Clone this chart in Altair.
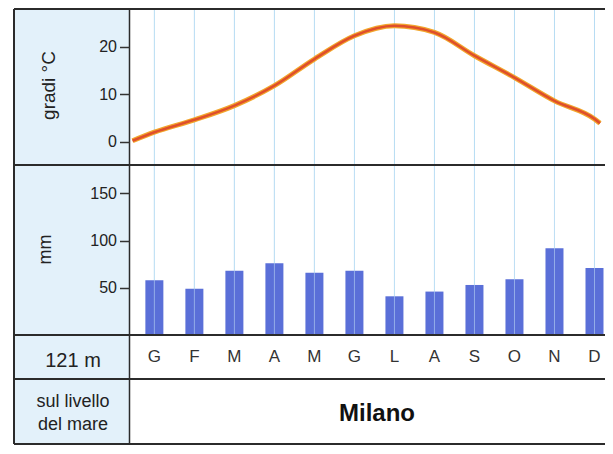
import altair as alt
import pandas as pd

# ---- data ----
months = ["G", "F", "M", "A", "M", "G", "L", "A", "S", "O", "N", "D"]
temperature = [2.0, 4.6, 7.6, 11.8, 17.4, 22.3, 24.4, 23.0, 18.1, 13.5, 8.6, 4.8]   # °C
precipitation = [58, 49, 68, 76, 66, 68, 41, 46, 53, 59, 92, 71]                   # mm
temp_left_edge = 0.2     # curve value where it meets the left divider
temp_right_edge = 3.9    # curve value at the cropped right edge
temp_ticks = [0, 10, 20]
prec_ticks = [50, 100, 150]
altitude = "121 m"
altitude_note = ["sul livello", "del mare"]
city = "Milano"

# ---- layout constants (pixels inside the chart; chart origin = page (14, 8)) ----
W = 591
DIV = 115.5
STEP = 40.7                      # pixels per month
X_MIN = 1 - 137.7 / STEP
X_MAX = X_MIN + W / STEP
X_DIV = X_MIN + DIV / STEP
R1, R2, R3, R4 = 1, 157, 327, 371     # row tops
H = 436                               # bottom of last row
BORDER = "#2b2b2b"
PANEL = "#e3f1fa"
GRID = "#a9d6f1"
FONT = "Liberation Sans"

xscale = alt.Scale(domain=[X_MIN, X_MAX], nice=False, zero=False)
idx = list(range(1, 13))
df_m = pd.DataFrame({"i": idx, "label": months, "temp": temperature, "prec": precipitation})
df_line = pd.DataFrame({
    "i": [X_DIV] + idx + [X_MAX],
    "temp": [temp_left_edge] + temperature + [temp_right_edge],
})
one = pd.DataFrame({"a": [0]})

X = alt.X("i:Q", scale=xscale, axis=None)

panel = alt.Chart(one).mark_rect(color=PANEL).encode(
    x=alt.value(0), x2=alt.value(DIV), y=alt.value(0), y2=alt.value(H))

grid = alt.Chart(df_m).mark_rule(color=GRID, strokeWidth=1, opacity=0.85).encode(
    x=X, y=alt.value(R1), y2=alt.value(R3))

# ---- temperature ----
t_axis = alt.Axis(orient="left", offset=-DIV, values=temp_ticks, tickSize=10, tickWidth=1.5,
                  tickColor="#333", domain=False, grid=False, labelFontSize=16,
                  labelColor="#222", labelPadding=3, title="gradi °C", titleFontSize=19,
                  titleFontWeight="normal", titleColor="#222", titleX=34 - DIV, titleY=77,
                  titleAngle=270, titleAlign="center", titleBaseline="middle", zindex=2)
t_scale = alt.Scale(domain=[(133.7 - R2) / 4.75, (133.7 - R1) / 4.75], range=[R2, R1],
                    nice=False, zero=False)
line_outer = alt.Chart(df_line).mark_line(color="#f2a62c", strokeWidth=5,
                                          interpolate="monotone").encode(
    x=X, y=alt.Y("temp:Q", scale=t_scale, axis=t_axis))
line_inner = alt.Chart(df_line).mark_line(color="#df4f2b", strokeWidth=2.6,
                                          interpolate="monotone").encode(
    x=X, y=alt.Y("temp:Q", scale=t_scale, axis=None))

# ---- precipitation ----
p_axis = alt.Axis(orient="left", offset=-DIV, values=prec_ticks, tickSize=10, tickWidth=1.5,
                  tickColor="#333", domain=False, grid=False, labelFontSize=16,
                  labelColor="#222", labelPadding=3, title="mm", titleFontSize=18,
                  titleFontWeight="normal", titleColor="#222", titleX=31 - DIV, titleY=241,
                  titleAngle=270, titleAlign="center", titleBaseline="middle", zindex=2)
p_scale = alt.Scale(domain=[0, (R3 - R2) / 0.944], range=[R3, R2], nice=False)
bars = alt.Chart(df_m).mark_bar(color="#5a6fd8", width=18).encode(
    x=X, y=alt.Y("prec:Q", scale=p_scale, axis=p_axis))
grid_top = alt.Chart(df_m).mark_rule(color="#c4e2f5", strokeWidth=1, opacity=0.55).encode(
    x=X, y=alt.value(R2), y2=alt.value(R3))

# ---- month row and name row ----
month_text = alt.Chart(df_m).mark_text(fontSize=17, color="#333").encode(
    x=X, y=alt.value(349), text="label:N")
alt_text = alt.Chart(pd.DataFrame({"t": [altitude]})).mark_text(fontSize=20, color="#222").encode(
    x=alt.value(59), y=alt.value(353), text="t:N")
note1 = alt.Chart(pd.DataFrame({"t": [altitude_note[0]]})).mark_text(
    fontSize=18, color="#222").encode(x=alt.value(59), y=alt.value(394), text="t:N")
note2 = alt.Chart(pd.DataFrame({"t": [altitude_note[1]]})).mark_text(
    fontSize=18, color="#222").encode(x=alt.value(59), y=alt.value(417), text="t:N")
city_text = alt.Chart(pd.DataFrame({"t": [city]})).mark_text(
    fontSize=24, fontWeight="bold", color="#111").encode(
    x=alt.value(363), y=alt.value(406), text="t:N")

# ---- frame lines ----
def hrule(y):
    return alt.Chart(one).mark_rule(color=BORDER, strokeWidth=2).encode(
        x=alt.value(0), x2=alt.value(W), y=alt.value(y))

frame = [hrule(R1), hrule(R2), hrule(R3), hrule(R4), hrule(H),
         alt.Chart(one).mark_rule(color=BORDER, strokeWidth=2).encode(
             x=alt.value(0), y=alt.value(R1), y2=alt.value(H)),
         alt.Chart(one).mark_rule(color=BORDER, strokeWidth=1.5).encode(
             x=alt.value(DIV), y=alt.value(R1), y2=alt.value(H))]

chart = alt.layer(
    panel, grid, line_outer, line_inner, bars, grid_top,
    month_text, alt_text, note1, note2, city_text, *frame
).resolve_scale(y="independent").properties(
    width=W, height=H,
    padding={"left": 6, "top": 0, "right": 0, "bottom": 1},
    autosize=alt.AutoSizeParams(type="none")
).configure(font=FONT).configure_view(stroke="transparent")

chart.save("out.html", embed_options={"renderer": "svg", "actions": False})
